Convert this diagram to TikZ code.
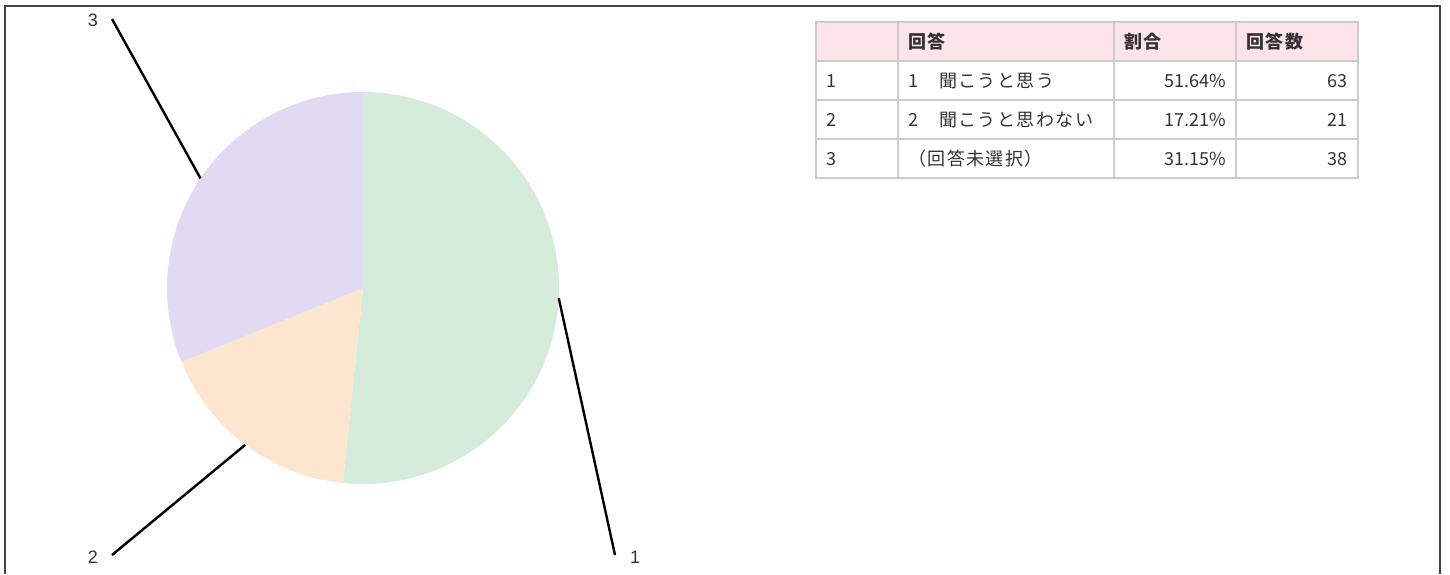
\documentclass[tikz,border=0pt]{standalone}
\usepackage{fontspec}
\setmainfont{Liberation Sans}
\newfontfamily\jpfont{Noto Sans CJK JP}
\newfontfamily\jpwide[LetterSpace=8]{Noto Sans CJK JP}
\usetikzlibrary{positioning,calc}
\definecolor{sliceone}{RGB}{213,236,219}
\definecolor{slicetwo}{RGB}{253,229,207}
\definecolor{slicethree}{RGB}{224,219,243}
\definecolor{headpink}{RGB}{253,228,233}
\definecolor{gridgray}{RGB}{204,204,204}
\definecolor{textgray}{RGB}{51,51,51}
\definecolor{framegray}{RGB}{68,68,68}
\tikzset{
  leader/.style={black,line width=2.4pt},
  plabel/.style={inner sep=0pt,text=textgray,font=\fontsize{18}{21}\selectfont},
  cell/.style={inner sep=0pt,text=textgray,font=\jpfont\fontsize{18}{21}\selectfont},
  widecell/.style={cell,font=\jpwide\fontsize{18}{21}\selectfont},
  headcell/.style={cell,font=\jpwide\bfseries\fontsize{18}{21}\selectfont}
}
\begin{document}
\begin{tikzpicture}[x=1pt,y=-1pt]
\def\RAD{196}
\useasboundingbox (0,0) rectangle (1450,574);
	\fill[white] (0,0) rectangle (1450,574);
	\draw[framegray,line width=1.5pt] (5,574) -- (5,6) -- (1440,6) -- (1440,574);

	% pie
	\coordinate (c) at (363,288);
	\fill[sliceone] (c) -- ++(-90:\RAD) arc[start angle=-90,end angle=95.9,radius=\RAD] -- cycle;
	\fill[slicetwo] (c) -- ++(95.9:\RAD) arc[start angle=95.9,end angle=157.86,radius=\RAD] -- cycle;
	\fill[slicethree] (c) -- ++(157.86:\RAD) arc[start angle=157.86,end angle=270,radius=\RAD] -- cycle;

	% leaders
	\coordinate (r1) at ($(c)+(2.95:\RAD)$);
	\coordinate (r2) at ($(c)+(126.9:\RAD)$);
	\coordinate (r3) at ($(c)+(214:\RAD)$);
	\coordinate (e1) at (615,555);
	\coordinate (e2) at (112,555);
	\coordinate (e3) at (112,19);
	\node[plabel,anchor=west] (l1) at (630,557) {1};
	\node[plabel,anchor=east] (l2) at (98,557) {2};
	\node[plabel,anchor=east] (l3) at (98,20) {3};
	\draw[leader] (r1) -- (e1);
	\draw[leader] (r2) -- (e2);
	\draw[leader] (r3) -- (e3);

	% table
	\fill[headpink] (816,22) rectangle (1358,61);
	\draw[gridgray,line width=2pt] (816,22) rectangle (1358,178);
	\draw[gridgray,line width=2pt] (816,61) -- (1358,61);
	\draw[gridgray,line width=2pt] (816,100) -- (1358,100);
	\draw[gridgray,line width=2pt] (816,139) -- (1358,139);
	\draw[gridgray,line width=2pt] (898,22) -- (898,178);
	\draw[gridgray,line width=2pt] (1114,22) -- (1114,178);
	\draw[gridgray,line width=2pt] (1236,22) -- (1236,178);

	\node[headcell,anchor=west] (hans) at (908,42) {回答};
	\node[headcell,anchor=west] (hrate) at (1124,42) {割合};
	\node[headcell,anchor=west] (hcount) at (1246,42) {回答数};

	\node[cell,anchor=west] (n1) at (826,81) {1};
	\node[widecell,anchor=west] (a1) at (908,81) {1　聞こうと思う};
	\node[cell,anchor=east] (p1) at (1226,81) {51.64\%};
	\node[cell,anchor=east] (k1) at (1348,81) {63};
	\node[cell,anchor=west] (n2) at (826,120) {2};
	\node[widecell,anchor=west] (a2) at (908,120) {2　聞こうと思わない};
	\node[cell,anchor=east] (p2) at (1226,120) {17.21\%};
	\node[cell,anchor=east] (k2) at (1348,120) {21};
	\node[cell,anchor=west] (n3) at (826,159) {3};
	\node[widecell,anchor=west] (a3) at (908,159) {（回答未選択）};
	\node[cell,anchor=east] (p3) at (1226,159) {31.15\%};
	\node[cell,anchor=east] (k3) at (1348,159) {38};
\end{tikzpicture}
\end{document}
